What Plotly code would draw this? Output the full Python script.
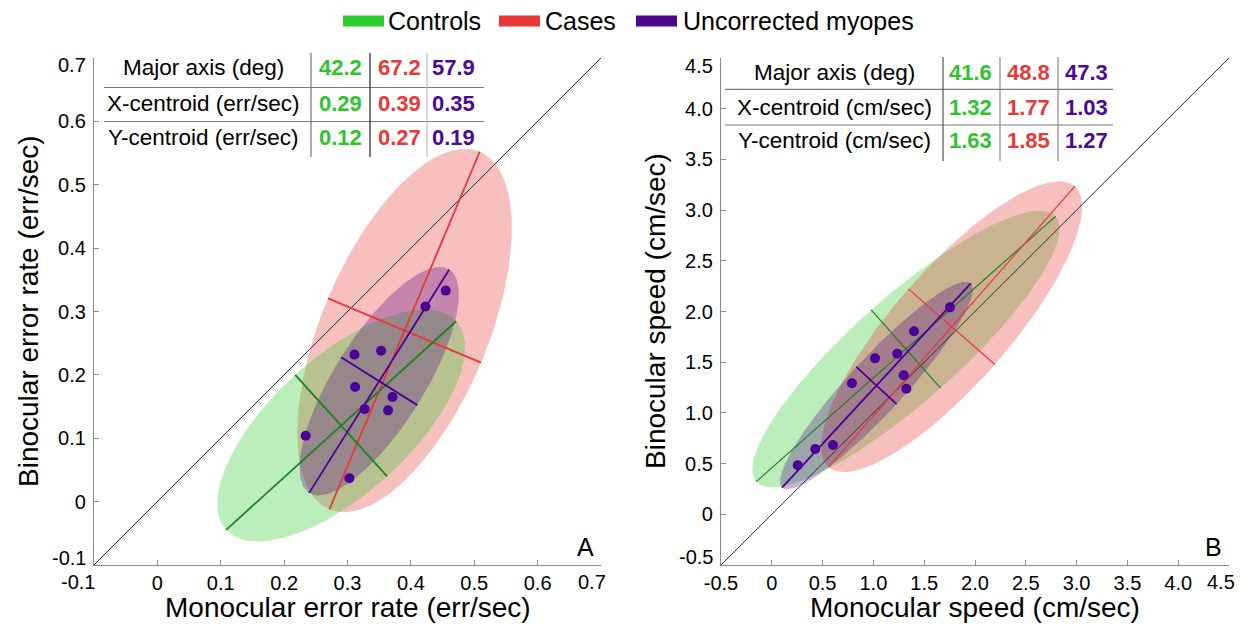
import numpy as np
import plotly.graph_objects as go

W, H = 1244, 627
FONT = "Liberation Sans, Arial, sans-serif"

# ---------------- data ----------------
groups = ["Controls", "Cases", "Uncorrected myopes"]

# Panel A (error rate, err/sec)
a_major_deg = [42.2, 67.2, 57.9]
a_x_centroid = [0.29, 0.39, 0.35]
a_y_centroid = [0.12, 0.27, 0.19]
a_semi_major = [0.245, 0.306, 0.208]
a_semi_minor = [0.108, 0.131, 0.071]
a_myope_x = [0.455, 0.423, 0.311, 0.353, 0.312, 0.371, 0.327, 0.364, 0.234, 0.303]
a_myope_y = [0.333, 0.308, 0.232, 0.238, 0.181, 0.165, 0.146, 0.144, 0.104, 0.037]
a_range = [-0.1, 0.7]
a_ticks = [-0.1, 0, 0.1, 0.2, 0.3, 0.4, 0.5, 0.6, 0.7]
a_ticklabels = ["-0.1", "0", "0.1", "0.2", "0.3", "0.4", "0.5", "0.6", "0.7"]
a_table_labels = ["Major axis (deg)", "X-centroid (err/sec)", "Y-centroid (err/sec)"]

# Panel B (speed, cm/sec)
b_major_deg = [41.6, 48.8, 47.3]
b_x_centroid = [1.32, 1.77, 1.03]
b_y_centroid = [1.63, 1.85, 1.27]
b_semi_major = [1.97, 1.84, 1.37]
b_semi_minor = [0.515, 0.566, 0.27]
b_myope_x = [0.255, 0.428, 0.602, 0.789, 1.016, 1.235, 1.298, 1.324, 1.400, 1.754]
b_myope_y = [0.483, 0.644, 0.683, 1.292, 1.538, 1.584, 1.371, 1.239, 1.805, 2.041]
b_range = [-0.5, 4.5]
b_ticks = [-0.5, 0, 0.5, 1.0, 1.5, 2.0, 2.5, 3.0, 3.5, 4.0, 4.5]
b_ticklabels = ["-0.5", "0", "0.5", "1.0", "1.5", "2.0", "2.5", "3.0", "3.5", "4.0", "4.5"]
b_table_labels = ["Major axis (deg)", "X-centroid (cm/sec)", "Y-centroid (cm/sec)"]

# ---------------- styles ----------------
fill_cols = ["rgba(40,200,40,0.31)", "rgba(232,56,56,0.32)", "rgba(75,0,130,0.30)"]
line_cols = ["#1e821e", "#e8383a", "#4b0096"]
text_cols = ["#2ec42e", "#e8383a", "#4b0a96"]
legend_cols = ["#2ecc2e", "#e83838", "#4b0a8c"]


def px(x):
    return x / W


def py(y):
    return 1 - y / H


fig = go.Figure()


def ellipse_pts(cx, cy, a, b, deg, n=181):
    th = np.deg2rad(deg)
    t = np.linspace(0, 2 * np.pi, n)
    x = cx + a * np.cos(th) * np.cos(t) - b * np.sin(th) * np.sin(t)
    y = cy + a * np.sin(th) * np.cos(t) + b * np.cos(th) * np.sin(t)
    return x, y


def add_panel(xa, ya, deg, cxs, cys, amaj, amin, mx, my, rng, order, lw):
    for i in order:
        ex, ey = ellipse_pts(cxs[i], cys[i], amaj[i], amin[i], deg[i])
        fig.add_trace(go.Scatter(x=ex, y=ey, mode="lines", fill="toself",
                                 fillcolor=fill_cols[i], line=dict(width=0),
                                 hoverinfo="skip", showlegend=False,
                                 xaxis=xa, yaxis=ya))
    fig.add_trace(go.Scatter(x=rng, y=rng, mode="lines",
                             line=dict(color="#303030", width=1),
                             hoverinfo="skip", showlegend=False, xaxis=xa, yaxis=ya))
    for i in order:
        th = np.deg2rad(deg[i])
        c, s = np.cos(th), np.sin(th)
        mjx = [cxs[i] - amaj[i] * c, cxs[i] + amaj[i] * c]
        mjy = [cys[i] - amaj[i] * s, cys[i] + amaj[i] * s]
        mnx = [cxs[i] + amin[i] * s, cxs[i] - amin[i] * s]
        mny = [cys[i] - amin[i] * c, cys[i] + amin[i] * c]
        fig.add_trace(go.Scatter(x=mjx + [None] + mnx, y=mjy + [None] + mny,
                                 mode="lines", line=dict(color=line_cols[i], width=lw[i]),
                                 hoverinfo="skip", showlegend=False, xaxis=xa, yaxis=ya))
    fig.add_trace(go.Scatter(x=mx, y=my, mode="markers",
                             marker=dict(color="#4b0096", size=10),
                             name=groups[2], showlegend=False, xaxis=xa, yaxis=ya))


add_panel("x", "y", a_major_deg, a_x_centroid, a_y_centroid, a_semi_major, a_semi_minor,
          a_myope_x, a_myope_y, a_range, [1, 0, 2], [1.8, 1.8, 1.8])
add_panel("x2", "y2", b_major_deg, b_x_centroid, b_y_centroid, b_semi_major, b_semi_minor,
          b_myope_x, b_myope_y, b_range, [0, 1, 2], [1.2, 1.2, 1.8])

axis_common = dict(showline=True, linecolor="#8a8a8a", linewidth=1.3, ticks="inside",
                   ticklen=5, tickcolor="#8a8a8a", tickwidth=1, showgrid=False,
                   zeroline=False, mirror=False, automargin=False,
                   tickfont=dict(family=FONT, size=20, color="#000"))


def blank(labels, first=True, last=True):
    out = list(labels)
    if first:
        out[0] = ""
    if last:
        out[-1] = ""
    return out


ydom = [py(565), py(58)]
fig.update_layout(
    width=W, height=H, margin=dict(l=0, r=0, t=0, b=0, pad=0),
    paper_bgcolor="white", plot_bgcolor="white", showlegend=False,
    xaxis=dict(domain=[px(94), px(601)], range=a_range, tickvals=a_ticks,
               ticktext=blank(a_ticklabels), anchor="y", ticklabelstandoff=0, **axis_common),
    yaxis=dict(domain=ydom, range=a_range, tickvals=a_ticks,
               ticktext=blank(a_ticklabels), anchor="x", ticklabelstandoff=3, **axis_common),
    xaxis2=dict(domain=[px(721), px(1229)], range=b_range, tickvals=b_ticks,
                ticktext=blank(b_ticklabels, first=False), anchor="y2",
                ticklabelstandoff=0, **axis_common),
    yaxis2=dict(domain=ydom, range=b_range, tickvals=b_ticks,
                ticktext=blank(b_ticklabels), anchor="x2", ticklabelstandoff=3, **axis_common),
)

ann = []
shapes = []


def text(x, y, s, size, color="#000", xanchor="center", angle=0):
    ann.append(dict(x=px(x), y=py(y), xref="paper", yref="paper", text=s,
                    showarrow=False, xanchor=xanchor, yanchor="middle",
                    textangle=angle, font=dict(family=FONT, size=size, color=color)))


def seg(x0, y0, x1, y1, color, width=1):
    shapes.append(dict(type="line", xref="paper", yref="paper",
                       x0=px(x0), y0=py(y0), x1=px(x1), y1=py(y1),
                       line=dict(color=color, width=width)))


# end tick labels (nudged inward as in the original)
def xend(axref, val, label, shift):
    ann.append(dict(x=val, xref=axref, y=py(582), yref="paper", text=label,
                    showarrow=False, xanchor="center", yanchor="middle", xshift=shift,
                    font=dict(family=FONT, size=20, color="#000")))


def yend(ayref, x_px, val, label, shift):
    ann.append(dict(x=px(x_px), xref="paper", y=val, yref=ayref, text=label,
                    showarrow=False, xanchor="right", yanchor="middle", yshift=shift,
                    font=dict(family=FONT, size=20, color="#000")))


xend("x", a_ticks[0], a_ticklabels[0], -16)
xend("x", a_ticks[-1], a_ticklabels[-1], -9)
xend("x2", b_ticks[-1], b_ticklabels[-1], -8)
yend("y", 88, a_ticks[0], a_ticklabels[0], 7)
yend("y", 88, a_ticks[-1], a_ticklabels[-1], -7)
yend("y2", 715, b_ticks[0], b_ticklabels[0], 8)
yend("y2", 715, b_ticks[-1], b_ticklabels[-1], -8)

# axis titles
text(348, 607, "Monocular error rate (err/sec)", 28)
text(28, 311, "Binocular error rate (err/sec)", 28, angle=-90)
text(975, 607, "Monocular speed (cm/sec)", 28)
text(655, 311, "Binocular speed (cm/sec)", 28, angle=-90)

# panel letters
text(585, 547, "A", 25)
text(1213, 547, "B", 25)


def table(labels, deg, xc, yc, lab_x, col_x, row_y, hl_y, hl_x, vl_x, vl_y, vl_cols):
    vals = [deg, xc, yc]
    for r in range(3):
        text(lab_x, row_y[r], labels[r], 22.5)
        for g in range(3):
            fmt = "{:.1f}" if r == 0 else "{:.2f}"
            text(col_x[g], row_y[r], "<b>" + fmt.format(vals[r][g]) + "</b>", 22, text_cols[g])
    for y in hl_y:
        seg(hl_x[0], y, hl_x[1], y, "#7a7a7a", 1.2)
    for x, c in zip(vl_x, vl_cols):
        seg(x, vl_y[0], x, vl_y[1], c, 1.2)


table(a_table_labels, a_major_deg, a_x_centroid, a_y_centroid,
      203, [340, 399, 453], [68, 103, 137], [87.5, 121.5], [104, 484],
      [311, 370, 427], [53, 157], ["#777777", "#222222", "#bbbbbb"])
table(b_table_labels, b_major_deg, b_x_centroid, b_y_centroid,
      834, [970, 1028, 1086], [73, 107.5, 141], [89.3, 125], [725, 1113],
      [943, 1000, 1058], [57, 161], ["#555555", "#888888", "#888888"])

# legend
leg_rect_x = [343, 499, 636]
leg_text_x = [386, 543, 681]
for i in range(3):
    shapes.append(dict(type="rect", xref="paper", yref="paper",
                       x0=px(leg_rect_x[i]), x1=px(leg_rect_x[i] + 41),
                       y0=py(26.5), y1=py(15.5), fillcolor=legend_cols[i],
                       line=dict(width=0)))
    text(leg_text_x[i], 21, groups[i], 25, xanchor="left")

fig.update_layout(annotations=ann, shapes=shapes)
fig.write_html("out.html")
